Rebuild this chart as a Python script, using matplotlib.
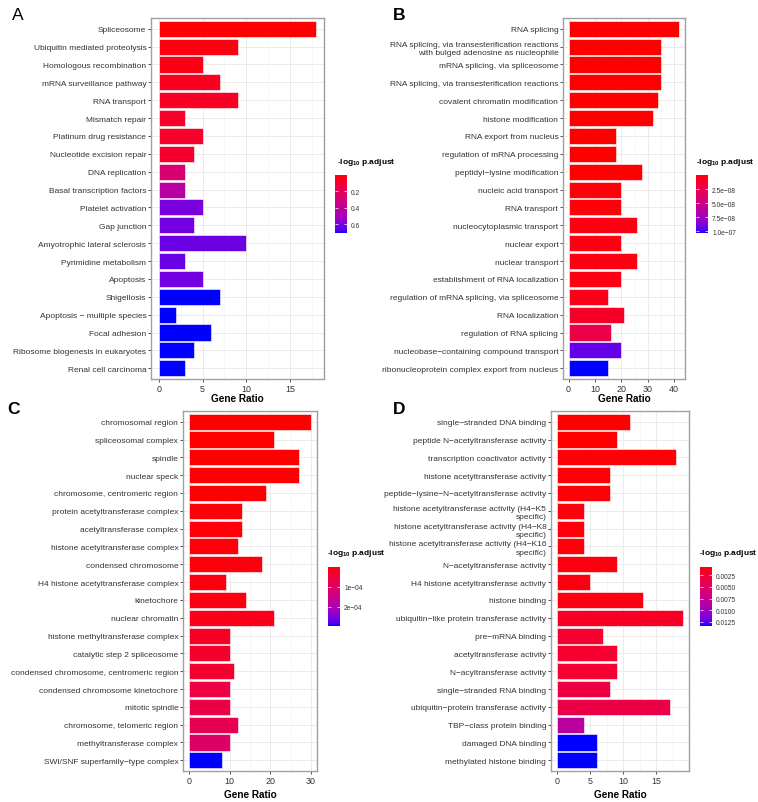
import numpy as np
import matplotlib
matplotlib.use("Agg")
import matplotlib.pyplot as plt
from matplotlib.colors import ListedColormap, Normalize
from matplotlib import font_manager as fm
import matplotlib.cm as cm

try:
    fm.findfont(fm.FontProperties(family="Liberation Sans Narrow"), fallback_to_default=False)
    FAM, SC = "Liberation Sans Narrow", 1.0
except Exception:
    FAM, SC = "Liberation Sans", 0.86

plt.rcParams['font.family'] = [FAM, 'DejaVu Sans']
plt.rcParams['mathtext.fontset'] = 'custom'
plt.rcParams['mathtext.rm'] = FAM
plt.rcParams['mathtext.bf'] = FAM + ':bold'

# ---------------- data ----------------
kegg_terms = ["Spliceosome", "Ubiquitin mediated proteolysis", "Homologous recombination",
              "mRNA surveillance pathway", "RNA transport", "Mismatch repair",
              "Platinum drug resistance", "Nucleotide excision repair", "DNA replication",
              "Basal transcription factors", "Platelet activation", "Gap junction",
              "Amyotrophic lateral sclerosis", "Pyrimidine metabolism", "Apoptosis",
              "Shigellosis", "Apoptosis \u2212 multiple species", "Focal adhesion",
              "Ribosome biogenesis in eukaryotes", "Renal cell carcinoma"]
kegg_counts = [18, 9, 5, 7, 9, 3, 5, 4, 3, 3, 5, 4, 10, 3, 5, 7, 2, 6, 4, 3]
kegg_padj = [0.0, 0.02, 0.03, 0.05, 0.06, 0.075, 0.075, 0.08, 0.28, 0.43,
             0.61, 0.62, 0.63, 0.63, 0.62, 0.71, 0.71, 0.71, 0.71, 0.71]
kegg_ticks = [0.2, 0.4, 0.6]
kegg_ticklabels = ["0.2", "0.4", "0.6"]

bp_terms = ["RNA splicing",
            "RNA splicing, via transesterification reactions\nwith bulged adenosine as nucleophile",
            "mRNA splicing, via spliceosome",
            "RNA splicing, via transesterification reactions",
            "covalent chromatin modification", "histone modification",
            "RNA export from nucleus", "regulation of mRNA processing",
            "peptidyl\u2212lysine modification", "nucleic acid transport", "RNA transport",
            "nucleocytoplasmic transport", "nuclear export", "nuclear transport",
            "establishment of RNA localization",
            "regulation of mRNA splicing, via spliceosome", "RNA localization",
            "regulation of RNA splicing", "nucleobase\u2212containing compound transport",
            "ribonucleoprotein complex export from nucleus"]
bp_counts = [42, 35, 35, 35, 34, 32, 18, 18, 28, 20, 20, 26, 20, 26, 20, 15, 21, 16, 20, 15]
bp_padj = [1e-13, 2e-13, 3e-13, 4e-13, 5e-13, 1e-12, 2e-11, 4e-11, 5e-11, 1.5e-9,
           1.5e-9, 3e-9, 3e-9, 3e-9, 4e-9, 5e-9, 1e-8, 2.2e-8, 9.3e-8, 1.03e-7]
bp_ticks = [2.5e-8, 5.0e-8, 7.5e-8, 1.0e-7]
bp_ticklabels = ["2.5e\u221208", "5.0e\u221208", "7.5e\u221208", "1.0e\u221207"]

cc_terms = ["chromosomal region", "spliceosomal complex", "spindle", "nuclear speck",
            "chromosome, centromeric region", "protein acetyltransferase complex",
            "acetyltransferase complex", "histone acetyltransferase complex",
            "condensed chromosome", "H4 histone acetyltransferase complex", "kinetochore",
            "nuclear chromatin", "histone methyltransferase complex",
            "catalytic step 2 spliceosome", "condensed chromosome, centromeric region",
            "condensed chromosome kinetochore", "mitotic spindle",
            "chromosome, telomeric region", "methyltransferase complex",
            "SWI/SNF superfamily\u2212type complex"]
cc_counts = [30, 21, 27, 27, 19, 13, 13, 12, 18, 9, 14, 21, 10, 10, 11, 10, 10, 12, 10, 8]
cc_padj = [1e-8, 2e-7, 5e-7, 1e-6, 2e-6, 4e-6, 4e-6, 5e-6, 6e-6, 8e-6, 1e-5, 1.5e-5,
           2.5e-5, 3e-5, 3.6e-5, 5.9e-5, 6.5e-5, 7.4e-5, 1.03e-4, 2.95e-4]
cc_ticks = [1e-4, 2e-4]
cc_ticklabels = ["1e\u221204", "2e\u221204"]

mf_terms = ["single\u2212stranded DNA binding", "peptide N\u2212acetyltransferase activity",
            "transcription coactivator activity", "histone acetyltransferase activity",
            "peptide\u2212lysine\u2212N\u2212acetyltransferase activity",
            "histone acetyltransferase activity (H4\u2212K5\nspecific)",
            "histone acetyltransferase activity (H4\u2212K8\nspecific)",
            "histone acetyltransferase activity (H4\u2212K16\nspecific)",
            "N\u2212acetyltransferase activity", "H4 histone acetyltransferase activity",
            "histone binding", "ubiquitin\u2212like protein transferase activity",
            "pre\u2212mRNA binding", "acetyltransferase activity",
            "N\u2212acyltransferase activity", "single\u2212stranded RNA binding",
            "ubiquitin\u2212protein transferase activity", "TBP\u2212class protein binding",
            "damaged DNA binding", "methylated histone binding"]
mf_counts = [11, 9, 18, 8, 8, 4, 4, 4, 9, 5, 13, 19, 7, 9, 9, 8, 17, 4, 6, 6]
mf_padj = [0.0007, 0.0007, 0.0008, 0.0008, 0.0008, 0.0009, 0.0009, 0.0009, 0.001, 0.001,
           0.0011, 0.0018, 0.0022, 0.0022, 0.0022, 0.0032, 0.0035, 0.0083, 0.0134, 0.0134]
mf_ticks = [0.0025, 0.0050, 0.0075, 0.0100, 0.0125]
mf_ticklabels = ["0.0025", "0.0050", "0.0075", "0.0100", "0.0125"]

# ---------------- colormap: red -> blue interpolated in CIELAB ----------------
_M = np.array([[0.4124, 0.3576, 0.1805], [0.2126, 0.7152, 0.0722], [0.0193, 0.1192, 0.9505]])
_Mi = np.linalg.inv(_M)
_W = _M @ np.ones(3)
_d = 6 / 29


def _to_lab(rgb):
    c = np.asarray(rgb, float)
    lin = np.where(c <= 0.04045, c / 12.92, ((c + 0.055) / 1.055) ** 2.4)
    xyz = (_M @ lin) / _W
    f = np.where(xyz > _d ** 3, np.cbrt(xyz), xyz / (3 * _d ** 2) + 4 / 29)
    return np.array([116 * f[1] - 16, 500 * (f[0] - f[1]), 200 * (f[1] - f[2])])


def _from_lab(lab):
    L, a, b = lab
    fy_ = (L + 16) / 116
    f = np.array([fy_ + a / 500, fy_, fy_ - b / 200])
    xyz = np.where(f > _d, f ** 3, 3 * _d ** 2 * (f - 4 / 29)) * _W
    lin = np.clip(_Mi @ xyz, 0, 1)
    return np.clip(np.where(lin <= 0.0031308, 12.92 * lin, 1.055 * lin ** (1 / 2.4) - 0.055), 0, 1)


_lr, _lb = _to_lab([1, 0, 0]), _to_lab([0, 0, 1])
cmap = ListedColormap([_from_lab(_lr + (_lb - _lr) * t) for t in np.linspace(0, 1, 256)])

# ---------------- figure ----------------
W, H = 758, 803
fig = plt.figure(figsize=(W / 100, H / 100), dpi=100)


def fx(px):
    return px / W


def fy(py):
    return 1 - py / H


panels = [
    dict(letter="A", lw="normal", terms=kegg_terms, counts=kegg_counts, padj=kegg_padj,
         ticks=kegg_ticks, tl=kegg_ticklabels, box=(151, 19, 324, 380), major=5,
         cb=(335, 176, 347, 234), title=(337, 162), letpos=(18, 15), xlab=399),
    dict(letter="B", lw="bold", terms=bp_terms, counts=bp_counts, padj=bp_padj,
         ticks=bp_ticks, tl=bp_ticklabels, box=(563, 19, 685, 380), major=10,
         cb=(696, 176, 708, 234), title=(696, 162), letpos=(399, 15), xlab=399),
    dict(letter="C", lw="bold", terms=cc_terms, counts=cc_counts, padj=cc_padj,
         ticks=cc_ticks, tl=cc_ticklabels, box=(183, 412, 317, 772), major=10,
         cb=(328, 568, 340, 627), title=(327, 554), letpos=(13, 410), xlab=795),
    dict(letter="D", lw="bold", terms=mf_terms, counts=mf_counts, padj=mf_padj,
         ticks=mf_ticks, tl=mf_ticklabels, box=(551, 412, 689, 772), major=5,
         cb=(700, 568, 712, 627), title=(699, 554), letpos=(399, 410), xlab=795),
]

for p in panels:
    x0, y0, x1, y1 = p["box"]
    ax = fig.add_axes([fx(x0), fy(y1), fx(x1 - x0), (y1 - y0) / H])
    n = len(p["terms"])
    ypos = np.arange(n)
    norm = Normalize(vmin=min(p["padj"]), vmax=max(p["padj"]))
    colors = cmap(norm(np.array(p["padj"])))
    ax.set_axisbelow(True)
    ax.barh(ypos, p["counts"], height=0.9, color=colors, edgecolor="white", linewidth=0.4, zorder=2)
    mx = max(p["counts"])
    ax.set_xlim(-0.05 * mx, 1.05 * mx)
    ax.set_ylim(n - 0.4, -0.6)
    ax.set_yticks(ypos)
    labs = ax.set_yticklabels(p["terms"], fontsize=7.0 * SC, color="#333333", linespacing=1.25)
    for t in labs:
        t.set_multialignment("right")
    maj = np.arange(0, mx * 1.05 + 0.01, p["major"])
    ax.set_xticks(maj)
    ax.set_xticklabels([f"{int(v)}" for v in maj], fontsize=7.4 * SC, color="#333333")
    ax.set_xticks(np.arange(p["major"] / 2, mx * 1.05, p["major"]), minor=True)
    ax.grid(True, which="major", color="#EBEBEB", linewidth=0.7)
    ax.grid(True, which="minor", axis="x", color="#F2F2F2", linewidth=0.5)
    ax.tick_params(axis="both", which="major", length=2.2, width=0.6, color="#333333", pad=1.2)
    ax.tick_params(axis="x", which="minor", length=0)
    for s in ax.spines.values():
        s.set_color("#A0A0A0")
        s.set_linewidth(1.0)
    ax.set_xlabel("Gene Ratio", fontsize=8.4 * SC, fontweight="bold")
    ax.xaxis.set_label_coords(0.5, (y1 - p["xlab"]) / (y1 - y0))
    ax.xaxis.label.set_va("center")

    # colorbar
    cx0, cy0, cx1, cy1 = p["cb"]
    cax = fig.add_axes([fx(cx0), fy(cy1), fx(cx1 - cx0), (cy1 - cy0) / H])
    cb = fig.colorbar(cm.ScalarMappable(norm=norm, cmap=cmap), cax=cax)
    cb.outline.set_visible(False)
    cax.invert_yaxis()
    cb.set_ticks(p["ticks"])
    cb.set_ticklabels(p["tl"])
    cax.tick_params(axis="y", length=2, width=0.5, color="white", direction="in",
                    left=True, right=True, labelleft=False, labelright=True,
                    labelsize=5.6 * SC, labelcolor="#333333", pad=3)
    fig.text(fx(p["title"][0]), fy(p["title"][1]), r"-log$_{\mathbf{10}}$ p.adjust",
             fontsize=7.0 * SC, fontweight="bold", ha="left", va="center")

    fig.text(fx(p["letpos"][0]), fy(p["letpos"][1]), p["letter"], fontsize=12.5,
             fontweight=p["lw"], ha="center", va="center", family="Liberation Sans")

fig.savefig("out.png", dpi=100)
